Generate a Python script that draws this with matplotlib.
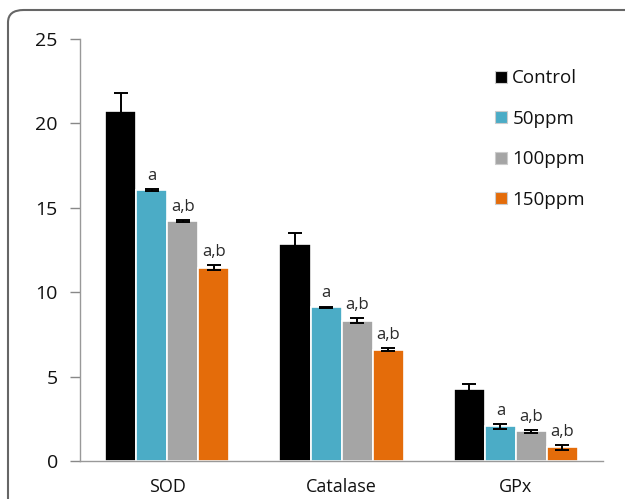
import numpy as np
import matplotlib
matplotlib.use("Agg")
import matplotlib.pyplot as plt
from matplotlib.patches import FancyBboxPatch, Patch

plt.rcParams['font.family'] = ['Open Sans', 'DejaVu Sans']

categories = ["SOD", "Catalase", "GPx"]
groups = ["Control", "50ppm", "100ppm", "150ppm"]
colors = ["#000000", "#4bacc6", "#a5a5a5", "#e46c0a"]

control = [20.75, 12.85, 4.25]
ppm50 = [16.05, 9.1, 2.05]
ppm100 = [14.2, 8.3, 1.75]
ppm150 = [11.45, 6.6, 0.8]

control_err = [1.05, 0.65, 0.3]
ppm50_err = [0.08, 0.05, 0.15]
ppm100_err = [0.06, 0.15, 0.1]
ppm150_err = [0.15, 0.1, 0.15]

labels50 = ["a", "a", "a"]
labels100 = ["a,b", "a,b", "a,b"]
labels150 = ["a,b", "a,b", "a,b"]

values = [control, ppm50, ppm100, ppm150]
errors = [control_err, ppm50_err, ppm100_err, ppm150_err]
sig = [None, labels50, labels100, labels150]

fig = plt.figure(figsize=(6.25, 4.99), dpi=100)
ax = fig.add_axes([0.128, 0.0762, 0.837, 0.8456])

x = np.arange(len(categories))
width = 0.178
offsets = (np.arange(len(groups)) - 1.5) * width

for vals, errs, col, off, lab, name in zip(values, errors, colors, offsets, sig, groups):
    ax.bar(x + off, vals, width, color=col, edgecolor="white", linewidth=1.2,
           label=name, zorder=2)
    ax.errorbar(x + off, vals, yerr=errs, fmt="none", ecolor="black",
                elinewidth=1.4, capsize=5, capthick=1.4, zorder=3)
    if lab is not None:
        for xi, v, e, t in zip(x + off, vals, errs, lab):
            ax.text(xi, v + e + 0.3, t, ha="center", va="bottom",
                    fontsize=12, color="#2a2a2a")

ax.set_xlim(-0.5, 2.5)
ax.set_ylim(0, 25)
ax.set_yticks([0, 5, 10, 15, 20, 25])
ax.set_xticks(x)
ax.set_xticklabels(categories)
ax.tick_params(axis="x", length=0, pad=12, labelsize=13, labelcolor="#111111")
ax.tick_params(axis="y", length=7, width=1, color="#888888", pad=9,
               labelsize=14, labelcolor="#111111", direction="out")

for s in ["top", "right"]:
    ax.spines[s].set_visible(False)
ax.spines["left"].set_color("#999999")
ax.spines["bottom"].set_color("#999999")
ax.spines["left"].set_linewidth(1.0)
ax.spines["bottom"].set_linewidth(1.0)

handles = [Patch(facecolor=c, edgecolor="#cccccc", linewidth=0.8) for c in colors]
leg = ax.legend(handles, groups, loc="upper left", bbox_to_anchor=(0.762, 0.968),
                frameon=False, fontsize=13.5, handlelength=0.6, handleheight=0.6,
                handletextpad=0.3, labelspacing=1.2)
for t in leg.get_texts():
    t.set_color("#111111")

# Rounded frame around the figure
frame = FancyBboxPatch((8 / 625, -0.1), 1.1, (499 - 10) / 499 + 0.1,
                       boxstyle="round,pad=0,rounding_size=0.025",
                       transform=fig.transFigure, facecolor="none",
                       edgecolor="#666666", linewidth=1.5, clip_on=False)
fig.patches.append(frame)

fig.savefig("out.png", dpi=100)
